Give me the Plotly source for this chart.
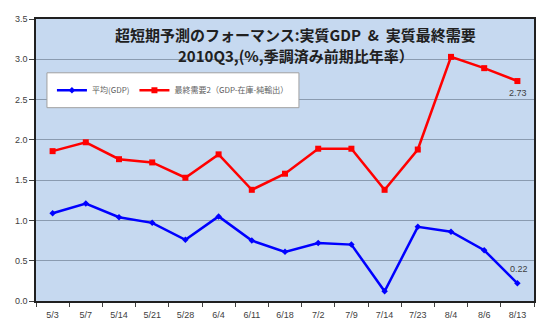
import plotly.graph_objects as go

categories = ["5/3", "5/7", "5/14", "5/21", "5/28", "6/4", "6/11", "6/18",
              "7/2", "7/9", "7/14", "7/23", "8/4", "8/6", "8/13"]
gdp_avg = [1.09, 1.21, 1.04, 0.97, 0.76, 1.05, 0.75, 0.61,
           0.72, 0.70, 0.12, 0.92, 0.86, 0.63, 0.22]
final_demand2 = [1.86, 1.97, 1.76, 1.72, 1.53, 1.82, 1.38, 1.58,
                 1.89, 1.89, 1.38, 1.88, 3.03, 2.89, 2.73]
y_ticks = [0.0, 0.5, 1.0, 1.5, 2.0, 2.5, 3.0, 3.5]
name_gdp = "平均(GDP)"
name_fd = "最終需要2（GDP-在庫-純輸出）"
title_line1 = "超短期予測のフォーマンス:実質GDP\u00a0\u00a0&amp;\u00a0\u00a0実質最終需要"
title_line2 = "2010Q3,(%,季調済み前期比年率）"

W, H = 548, 332
L, R, T, B = 36, 12, 19, 30

fig = go.Figure()
fig.add_trace(go.Scatter(
    x=categories, y=gdp_avg, name=name_gdp, mode="lines+markers",
    line=dict(color="#0000ff", width=2.5),
    marker=dict(symbol="diamond", size=5, color="#0000ff"),
))
fig.add_trace(go.Scatter(
    x=categories, y=final_demand2, name=name_fd, mode="lines+markers",
    line=dict(color="#ff0000", width=2.5),
    marker=dict(symbol="square", size=6, color="#ff0000"),
))

# end-point data labels
fig.add_annotation(x=categories[-1], y=final_demand2[-1], text=f"{final_demand2[-1]:.2f}",
                   showarrow=False, yshift=-12, xshift=1,
                   font=dict(size=9, color="#404040", family="Liberation Sans"))
fig.add_annotation(x=categories[-1], y=gdp_avg[-1], text=f"{gdp_avg[-1]:.2f}",
                   showarrow=False, yshift=14, xshift=2,
                   font=dict(size=9, color="#404040", family="Liberation Sans"))

pw = W - L - R
ph = H - T - B
# legend box (pixels -> paper)
bx0, bx1, by0, by1 = 47, 300, 73, 108
fig.add_shape(type="rect", xref="paper", yref="paper",
              x0=(bx0 - L) / pw, x1=(bx1 - L) / pw,
              y0=(H - B - by1) / ph, y1=(H - B - by0) / ph,
              fillcolor="white", line=dict(color="#a0a0a0", width=1),
              layer="above")

fig.add_annotation(xref="paper", yref="paper", x=(297 - L) / pw, y=(H - B - 35) / ph,
                   text=f"<b>{title_line1}</b>", showarrow=False,
                   font=dict(size=15, color="#202020", family="Noto Sans CJK JP"),
                   xanchor="center", yanchor="middle")
fig.add_annotation(xref="paper", yref="paper", x=(297 - L) / pw, y=(H - B - 56) / ph,
                   text=f"<b>{title_line2}</b>", showarrow=False,
                   font=dict(size=15, color="#202020", family="Noto Sans CJK JP"),
                   xanchor="center", yanchor="middle")

fig.update_layout(
    width=W, height=H,
    margin=dict(l=L, r=R, t=T, b=B, pad=0),
    paper_bgcolor="white",
    plot_bgcolor="#c6d9f0",
    showlegend=True,
    legend=dict(
        orientation="h", x=(52 - L) / pw, y=(H - B - 90.5) / ph,
        xanchor="left", yanchor="middle",
        bgcolor="rgba(0,0,0,0)", borderwidth=0,
        font=dict(size=8, color="#606060", family="Noto Sans CJK JP"),
        itemwidth=30, tracegroupgap=0,
    ),
    xaxis=dict(
        type="category", range=[-0.5, len(categories) - 0.5],
        tickson="boundaries", ticks="outside", ticklen=4, tickcolor="#404040",
        ticklabelstandoff=4,
        showline=True, linecolor="#202020", linewidth=1.5, mirror=True,
        showgrid=False, zeroline=False,
        tickfont=dict(size=9, color="#404040", family="Liberation Sans"),
    ),
    yaxis=dict(
        range=[0, 3.5], tickvals=y_ticks, tickformat=".1f",
        ticks="outside", ticklen=5, tickcolor="#404040",
        showline=True, linecolor="#202020", linewidth=1.5, mirror=True,
        showgrid=True, gridcolor="#8a9bb0", gridwidth=1, zeroline=False,
        tickfont=dict(size=9, color="#404040", family="Liberation Sans"),
    ),
)

fig.write_html("out.html")
